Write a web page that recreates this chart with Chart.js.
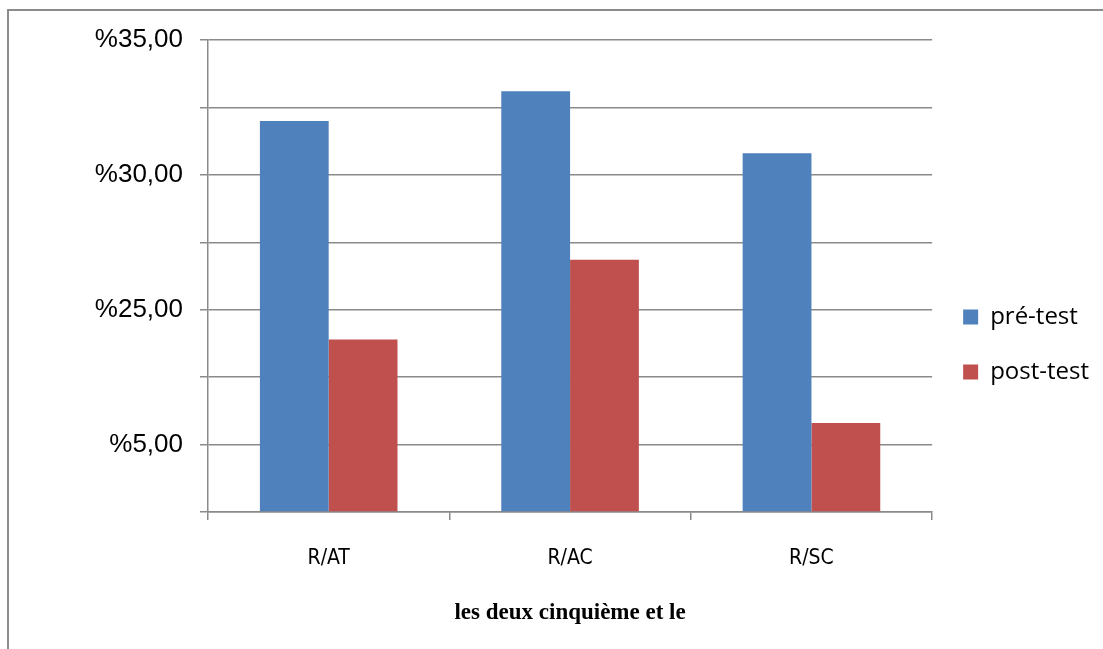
<!DOCTYPE html>
<html lang="fr">
<head>
    <meta charset="UTF-8">
    <title>pré-test / post-test</title>
    <script src="https://cdn.jsdelivr.net/npm/chart.js@4.4.0/dist/chart.umd.min.js"></script>
    <style>
        * { margin: 0; padding: 0; box-sizing: border-box; }
        html, body { width: 1103px; height: 649px; overflow: hidden; background: #fff; }
        .frame {
            position: absolute;
            left: 7px;
            top: 9px;
            width: 1200px;
            height: 800px;
            border-top: 2px solid #8c8c8c;
            border-left: 2px solid #8c8c8c;
        }
        .chart-wrapper {
            position: absolute;
            left: 0;
            top: 0;
            width: 1103px;
            height: 649px;
        }
    </style>
</head>
<body>
    <div class="frame"></div>
    <div class="chart-wrapper">
        <canvas id="testChart"></canvas>
    </div>

    <script>
        // données
        const categories = ['R/AT', 'R/AC', 'R/SC'];
        const preTest = [29.0, 31.2, 26.6];
        const postTest = [12.8, 18.7, 6.6];
        const yTickValues = [35, 25, 15, 5];
        const yTickLabels = ['%35,00', '%30,00', '%25,00', '%5,00'];

        const gridColor = '#8a8a8a';

        const config = {
            type: 'bar',
            data: {
                labels: categories,
                datasets: [
                    {
                        label: 'pré-test',
                        data: preTest,
                        backgroundColor: '#4F81BD',
                        borderWidth: 0,
                        categoryPercentage: 0.57,
                        barPercentage: 1.0
                    },
                    {
                        label: 'post-test',
                        data: postTest,
                        backgroundColor: '#C0504D',
                        borderWidth: 0,
                        categoryPercentage: 0.57,
                        barPercentage: 1.0
                    }
                ]
            },
            options: {
                responsive: true,
                maintainAspectRatio: false,
                animation: false,
                layout: {
                    padding: { left: 0, right: 4, top: 40, bottom: 0 }
                },
                plugins: {
                    tooltip: { enabled: false },
                    legend: {
                        display: true,
                        position: 'right',
                        labels: {
                            color: '#000',
                            boxWidth: 15,
                            boxHeight: 15,
                            padding: 31,
                            font: { family: "'Open Sans', 'Noto Sans', sans-serif", size: 24 }
                        }
                    }
                },
                scales: {
                    x: {
                        grid: {
                            display: true,
                            drawOnChartArea: false,
                            drawTicks: true,
                            tickLength: 8,
                            offset: true,
                            color: gridColor,
                            lineWidth: 1.5
                        },
                        border: { display: true, color: gridColor, width: 1.5 },
                        ticks: {
                            color: '#000',
                            padding: 26,
                            font: { family: "'DejaVu Sans Condensed', 'Liberation Sans Narrow', sans-serif", size: 21 }
                        },
                        title: {
                            display: true,
                            text: 'les deux cinquième et le',
                            color: '#000',
                            padding: { top: 10, bottom: 22 },
                            font: { family: "'Liberation Serif', 'Times New Roman', serif", size: 23, weight: 'bold' }
                        },
                        afterFit: function (scale) {
                            scale.height = 137;
                        }
                    },
                    y: {
                        min: 0,
                        max: 35,
                        grid: {
                            color: gridColor,
                            lineWidth: 1.5,
                            tickLength: 8
                        },
                        border: { display: true, color: gridColor, width: 1.5 },
                        ticks: {
                            stepSize: 5,
                            color: '#000',
                            padding: 17,
                            font: { family: "'Liberation Sans', Arial, sans-serif", size: 26 },
                            callback: function (value) {
                                const i = yTickValues.indexOf(value);
                                return i >= 0 ? yTickLabels[i] : '';
                            }
                        },
                        afterFit: function (scale) {
                            scale.width = 208;
                        }
                    }
                }
            }
        };

        const ctx = document.getElementById('testChart').getContext('2d');
        const chart = new Chart(ctx, config);
    </script>
</body>
</html>
